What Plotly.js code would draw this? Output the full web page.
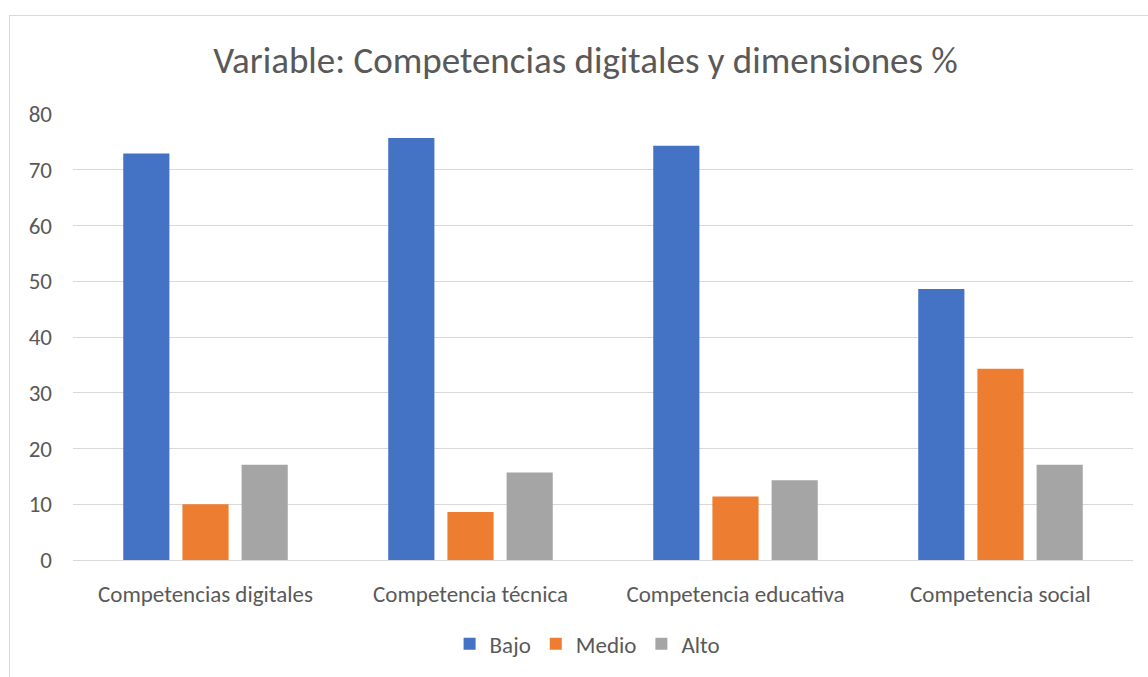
<!DOCTYPE html>
<html>
<head>
<meta charset="utf-8">
<script src="https://cdn.plot.ly/plotly-3.0.1.min.js"></script>
<style>
  html, body { margin: 0; padding: 0; background: #fff; }
  #wrap { position: relative; width: 1148px; height: 677px; overflow: hidden; }
  #chart { width: 1148px; height: 677px; }
  #frame { position: absolute; left: 9px; top: 15px; width: 1160px; height: 700px;
           border: 1px solid #d9d9d9; pointer-events: none; box-sizing: border-box; }
</style>
</head>
<body>
<div id="wrap">
  <div id="chart"></div>
  <div id="frame"></div>
</div>
<script>
const categories = ["Competencias digitales", "Competencia técnica", "Competencia educativa", "Competencia social"];
const bajo  = [72.9, 75.7, 74.3, 48.6];
const medio = [10.0, 8.6, 11.4, 34.3];
const alto  = [17.1, 15.7, 14.3, 17.1];
const seriesNames = ["Bajo", "Medio", "Alto"];
const titleText = "Variable: Competencias digitales y dimensiones %";

const colors = ["#4472c4", "#ed7d31", "#a5a5a5"];
const values = [bajo, medio, alto];
const font = "Carlito, Calibri, 'Open Sans', sans-serif";

const traces = values.map((v, i) => ({
  type: "bar",
  name: seriesNames[i],
  x: categories,
  y: v,
  marker: { color: colors[i] },
  hoverinfo: "y"
}));

const layout = {
  width: 1148, height: 677,
  margin: { l: 73, r: 15, t: 114, b: 113 },
  paper_bgcolor: "#fff", plot_bgcolor: "#fff",
  font: { family: font, color: "#595959", size: 23 },
  title: { text: titleText, font: { size: 37, color: "#595959", family: font },
           x: 0.51, xanchor: "center", y: 0.912, yanchor: "middle" },
  barmode: "group",
  bargap: 0.33,
  bargroupgap: 0.22,
  xaxis: { showgrid: false, showline: false, ticks: "", zeroline: false,
           tickfont: { size: 23, color: "#595959" }, ticklabelstandoff: 18 },
  yaxis: { range: [0, 80], dtick: 10, showgrid: true, gridcolor: "#d9d9d9", gridwidth: 1,
           zeroline: true, zerolinecolor: "#d9d9d9", zerolinewidth: 1, showline: false,
           ticks: "", tickfont: { size: 23, color: "#595959" }, ticklabelstandoff: 20 },
  legend: { orientation: "h", x: 0.485, xanchor: "center", y: -0.188, yanchor: "middle",
            font: { size: 23, color: "#595959" }, itemwidth: 30, tracegroupgap: 0 },
  showlegend: true
};

Plotly.newPlot("chart", traces, layout, { displayModeBar: false, responsive: false });
</script>
</body>
</html>
